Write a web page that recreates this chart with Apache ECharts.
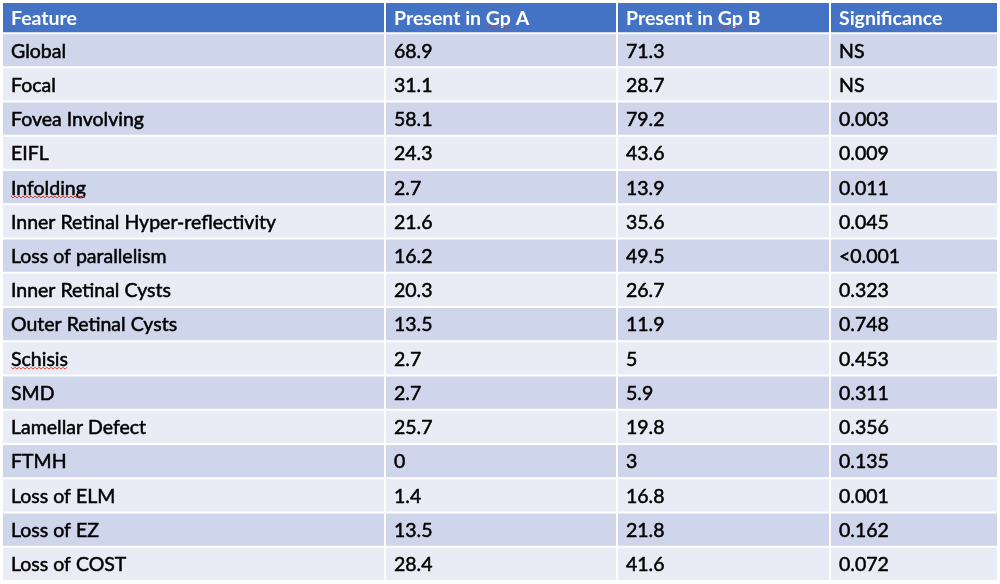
<!DOCTYPE html>
<html>
<head>
<meta charset="utf-8">
<script src="https://cdn.jsdelivr.net/npm/echarts@6/dist/echarts.min.js"></script>
<style>
  html, body { margin: 0; padding: 0; background: #fff; }
  #chart { width: 1000px; height: 584px; }
</style>
</head>
<body>
<div id="chart"></div>
<script>
// table contents
var headers = ['Feature', 'Present in Gp A', 'Present in Gp B', 'Significance'];
var features = ['Global', 'Focal', 'Fovea Involving', 'EIFL', 'Infolding',
    'Inner Retinal Hyper-reflectivity', 'Loss of parallelism', 'Inner Retinal Cysts',
    'Outer Retinal Cysts', 'Schisis', 'SMD', 'Lamellar Defect', 'FTMH',
    'Loss of ELM', 'Loss of EZ', 'Loss of COST'];
var gpA = ['68.9', '31.1', '58.1', '24.3', '2.7', '21.6', '16.2', '20.3',
    '13.5', '2.7', '2.7', '25.7', '0', '1.4', '13.5', '28.4'];
var gpB = ['71.3', '28.7', '79.2', '43.6', '13.9', '35.6', '49.5', '26.7',
    '11.9', '5', '5.9', '19.8', '3', '16.8', '21.8', '41.6'];
var significance = ['NS', 'NS', '0.003', '0.009', '0.011', '0.045', '<0.001', '0.323',
    '0.748', '0.453', '0.311', '0.356', '0.135', '0.001', '0.162', '0.072'];

// words the spell checker marked in the source slide (col, row, word)
var flagged = [[1, -1, 'Gp'], [2, -1, 'Gp'], [0, 4, 'Infolding'], [0, 9, 'Schisis']];

// layout (x in pixels of the 1000 wide axis)
var colEdges = [3, 385, 617, 830, 997];
var headerSize = 0.88;   // header height, in row units
var fontSize = 19.5;

var columns = [features, gpA, gpB, significance];
var cells = [];
for (var j = 0; j < headers.length; j++) {
    cells.push([j, -1]);
}
for (var i = 0; i < features.length; i++) {
    for (var k = 0; k < columns.length; k++) {
        cells.push([k, i]);
    }
}

function cellText(col, row) {
    return row < 0 ? headers[col] : columns[col][row];
}

var measureCtx = document.createElement('canvas').getContext('2d');
function textWidth(str, font) {
    measureCtx.font = font;
    return measureCtx.measureText(str).width;
}

var chart = echarts.init(document.getElementById('chart'));

var option = {
    animation: false,
    grid: { left: 0, right: 0, top: 3, bottom: 3 },
    xAxis: { type: 'value', min: 0, max: 1000, show: false },
    yAxis: { type: 'value', min: -headerSize, max: features.length, inverse: true, show: false },
    series: [{
        type: 'custom',
        data: cells,
        renderItem: function (params, api) {
            var col = api.value(0);
            var row = api.value(1);
            var yTop = row < 0 ? -headerSize : row;
            var yBot = row < 0 ? 0 : row + 1;
            var p0 = api.coord([colEdges[col], yTop]);
            var p1 = api.coord([colEdges[col + 1], yBot]);
            var fill;
            if (row < 0) fill = '#4472c4';
            else fill = row % 2 === 0 ? '#cfd5ea' : '#e9ebf5';
            var x0 = p0[0] + (col > 0 ? 1 : 0);
            var x1 = p1[0] - (col < headers.length - 1 ? 1 : 0);
            var y0 = p0[1] + (row >= 0 ? 1 : 0);
            var y1 = p1[1] - 1;
            var txt = cellText(col, row);
            var font = (row < 0 ? 'bold ' : '') + fontSize + 'px Lato';
            var tx = x0 + 8;
            var ty = (y0 + y1) / 2 + 1;
            var textColor = row < 0 ? '#ffffff' : '#000000';
            var children = [{
                type: 'rect',
                shape: { x: x0, y: y0, width: x1 - x0, height: y1 - y0 },
                style: { fill: fill }
            }, {
                type: 'text',
                x: tx,
                y: ty,
                style: {
                    text: txt,
                    fill: textColor,
                    stroke: row < 0 ? null : textColor,
                    lineWidth: 0.5,
                    font: font,
                    verticalAlign: 'middle',
                    align: 'left'
                }
            }];
            // red wavy underline
            flagged.forEach(function (f) {
                if (f[0] !== col || f[1] !== row) return;
                var start = tx + textWidth(txt.slice(0, txt.indexOf(f[2])), font);
                var end = start + textWidth(f[2], font);
                var yy = ty + fontSize * 0.45;
                var pts = [];
                for (var x = start, n = 0; x <= end; x += 2, n++) {
                    pts.push([x, yy + (n % 2 ? 1 : -1)]);
                }
                children.push({
                    type: 'polyline',
                    shape: { points: pts },
                    style: { stroke: '#e03c31', lineWidth: 1, fill: null }
                });
            });
            return { type: 'group', children: children };
        }
    }]
};

chart.setOption(option);
</script>
</body>
</html>
